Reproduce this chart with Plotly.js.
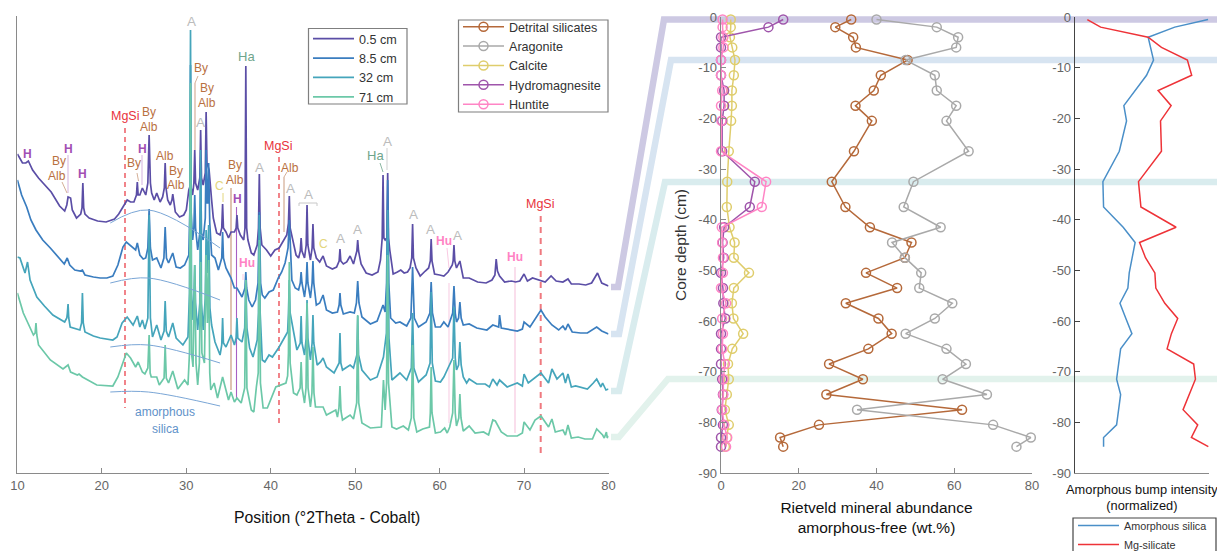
<!DOCTYPE html>
<html><head><meta charset="utf-8">
<script src="https://cdn.plot.ly/plotly-3.0.1.min.js"></script>
<style>html,body{margin:0;padding:0;background:#fff;overflow:hidden}#g{width:1217px;height:551px}</style>
</head><body><div id="g"></div><script>
// ---------- XRD patterns (2theta, stacked intensity) ----------
const x05=[10,10.6,11,11.3,11.8,12.5,14,15,15.6,15.85,16,16.3,16.5,17,17.5,17.65,17.75,17.85,18,18.5,19.5,20.5,21.5,22,22.5,23,23.4,23.8,24.1,24.2,24.3,24.5,24.8,25.2,25.45,25.6,25.75,25.9,26.2,26.5,26.9,27.2,27.4,27.5,27.6,27.8,28.1,28.3,28.4,28.5,28.7,29.2,29.7,30,30.3,30.5,30.75,30.9,31,31.1,31.35,31.6,31.7,31.8,32,32.25,32.35,32.45,32.7,33,33.2,33.6,34,34.2,34.3,34.4,34.7,35,35.3,35.7,35.9,36,36.1,36.4,36.8,36.95,37.05,37.15,37.3,37.7,38,38.4,38.55,38.65,38.75,38.95,39.5,40,40.5,41,41.5,41.9,42.1,42.2,42.3,42.6,43,43.3,43.5,43.6,43.7,44,44.2,44.3,44.4,44.7,44.9,45,45.1,45.4,45.8,46.2,46.6,47.3,47.8,48.1,48.2,48.3,48.6,49,49.4,49.8,50.2,50.3,50.4,50.7,51.3,52,52.7,53,53.2,53.3,53.4,53.55,53.75,53.85,53.95,54.1,54.5,55,55.4,55.8,56.2,56.5,56.7,56.8,56.9,57.2,57.7,58.3,58.7,58.9,59,59.1,59.4,60,60.5,61,61.5,61.6,61.7,61.8,62,62.4,62.8,63.5,64.5,65.5,66.2,66.55,66.7,66.85,67.1,67.7,68.5,69,69.5,70,70.4,71,71.8,72.5,73.2,73.8,74.6,75.2,75.6,76.5,77.3,78,78.7,79.2,80];
const y05=[319,310,310,312,303,295,281,267,262,268,276,275,263,255,259,265,290,265,259,255,252,251,254,259,266,273,271,271,278,291,278,278,285,278,290,338,290,280,273,280,271,276,285,310,285,273,268,273,279,273,261,256,258,263,283,288,278,290,323,290,283,295,343,295,288,300,361,310,303,273,255,240,238,245,269,245,241,235,241,241,245,258,245,238,233,245,407,245,233,220,218,228,245,299,245,228,223,217,223,225,233,238,250,277,245,233,218,215,222,235,222,215,228,268,228,213,225,249,225,215,211,217,207,204,206,212,224,212,209,211,217,209,222,233,222,209,200,198,201,213,235,298,235,233,235,300,235,223,199,201,203,200,201,205,215,249,215,205,197,202,205,212,234,212,199,198,197,201,208,212,228,212,205,212,195,195,191,190,193,198,214,202,197,191,192,191,192,199,192,195,193,191,197,192,191,194,189,189,188,190,200,190,187];
const x85=[10,10.5,11.1,11.6,12.2,13,13.9,15.4,15.55,15.9,16.2,16.8,17.45,17.7,18,19,19.8,20.6,21.3,21.9,22.5,22.9,23.4,24,24.2,24.5,24.9,25.2,25.45,25.6,25.75,26,26.5,27,27.35,27.5,27.65,27.9,28.4,28.8,29.3,29.8,30.3,30.42,30.5,30.58,30.75,30.9,31,31.1,31.35,31.6,31.7,31.8,32,32.25,32.35,32.45,32.55,32.65,32.78,33,33.4,33.8,34.2,34.3,34.4,34.7,35,35.3,35.7,36,36.6,36.95,37.05,37.15,37.4,37.8,38.2,38.5,38.65,38.8,39,39.3,39.8,40.3,40.9,41.3,41.7,42.05,42.2,42.35,42.5,42.9,43.3,43.5,43.6,43.7,44,44.2,44.3,44.4,44.7,44.9,45,45.1,45.4,45.8,46.2,46.6,47.3,47.9,48.1,48.2,48.3,48.6,49.4,49.9,50.15,50.3,50.45,50.8,51.8,52.6,53.3,53.55,53.72,53.85,53.98,54.2,54.8,55.3,56.1,56.6,56.8,57,57.5,58.4,58.85,59,59.15,59.5,60.1,60.5,61,61.55,61.7,61.85,62,62.25,62.4,62.55,62.8,63.5,64.4,65.6,66.3,67,67.1,67.3,68.5,69.2,69.8,70,70.7,71.4,72,72.5,73.3,74.1,74.6,74.9,75.2,75.7,76.7,77.5,78.6,79.2,80];
const y85=[293,278,266,253,243,233,225,211,209,215,208,203,202,203,198,196,195,195,197,208,226,231,227,223,230,218,214,215,225,264,225,213,215,205,215,246,215,210,220,206,205,208,218,260,408,260,233,245,278,245,223,240,303,240,233,255,323,270,270,310,250,218,215,203,215,241,215,205,200,195,185,185,176,185,201,185,173,166,173,190,261,190,178,175,181,183,195,201,210,225,253,215,193,185,183,190,201,190,176,190,211,190,175,190,212,190,168,170,178,163,160,161,168,180,168,159,161,160,170,192,170,156,149,152,168,161,190,293,190,155,150,151,147,155,206,155,146,151,160,191,160,146,146,151,146,160,187,160,151,155,171,155,148,149,145,143,148,146,158,145,143,142,144,151,146,155,163,156,148,143,147,143,149,141,140,140,146,142,139];
const x32=[10,10.3,10.9,11.2,11.5,12.3,13.2,14.2,15.6,15.85,15.92,16,16.08,16.25,17.4,17.6,17.7,17.8,18,19,19.8,21.3,21.8,22.4,23,23.7,24.2,24.5,24.8,25.1,25.45,25.6,25.75,26,26.5,27,27.37,27.5,27.63,27.9,28.4,28.8,29.6,30.2,30.38,30.5,30.62,30.8,30.9,31,31.1,31.35,31.6,31.7,31.8,32,32.25,32.35,32.5,32.65,32.8,33,33.4,34,34.2,34.3,34.4,34.7,35.3,35.7,35.9,36,36.1,36.6,36.92,37.05,37.18,37.5,37.9,38.4,38.55,38.65,38.75,39,39.3,39.8,40.2,41,41.8,42,42.1,42.2,42.3,42.9,43.1,43.5,43.6,43.7,44,44.2,44.3,44.4,44.7,44.9,45,45.1,45.5,45.9,46.2,46.6,47.5,48.1,48.2,48.3,48.5,49.4,49.8,50.2,50.3,50.4,50.8,51.8,52.6,53.35,53.7,53.85,54,54.35,55.3,56.1,56.65,56.8,56.95,57.5,58.4,58.87,59,59.13,59.5,60.1,60.5,61,61.55,61.7,61.85,62,62.25,62.4,62.55,62.8,63.2,63.5,64.4,65.4,65.9,66.3,66.8,67.1,68,69.2,69.8,70,70.5,72,72.9,73.3,73.9,74.6,74.9,75.2,75.6,76.1,77.5,78.2,78.6,79.1,79.3,79.7,80];
const y32=[216,215,200,211,193,176,167,158,151,155,160,169,155,146,143,150,180,150,141,137,135,133,136,150,156,148,157,146,153,144,155,258,155,136,148,133,142,172,142,136,150,135,128,136,180,443,180,153,175,208,170,143,170,323,170,143,175,243,200,248,165,148,131,118,128,155,130,126,138,128,135,155,135,131,145,193,145,125,116,133,160,258,160,113,111,118,116,126,138,141,160,193,160,130,123,130,157,130,118,135,173,135,113,130,158,130,108,111,115,106,100,110,140,110,103,108,105,118,157,118,103,93,96,116,140,263,135,93,100,93,105,160,105,91,98,110,181,110,92,91,96,105,115,166,115,103,108,131,108,96,90,94,89,89,86,94,88,93,86,90,87,99,90,100,90,104,94,100,90,99,86,87,84,90,94,86,90,83,84];
const x71=[10,10.7,11.9,12.1,12.2,12.3,12.5,13.9,15.4,16,16.3,17.1,17.3,17.7,19.4,21.3,21.9,22.4,22.9,23.4,24,24.3,24.8,25.1,25.45,25.6,25.72,25.85,26.5,26.8,27.37,27.5,27.63,27.9,28.4,29,29.8,30.2,30.38,30.5,30.62,30.8,31,31.15,31.35,31.55,31.7,31.85,32.15,32.35,32.5,32.65,32.78,32.9,33.3,33.7,34.3,35,35.3,35.7,36,36.5,36.92,37.05,37.18,37.7,38,38.3,38.52,38.65,38.78,39.1,39.6,40.6,41.8,42,42.1,42.2,42.3,42.7,43.1,43.48,43.6,43.72,44,44.18,44.3,44.42,44.7,44.88,45,45.12,45.3,46.2,46.6,47.7,47.9,48.08,48.2,48.32,48.5,49.4,49.8,50.18,50.3,50.42,50.8,51.8,52.6,53.1,53.35,53.55,53.72,53.83,53.95,54.35,54.9,55.7,56.3,56.65,56.8,56.95,57.3,58,58.8,58.9,59,59.1,59.5,60.1,60.6,60.9,61.2,61.55,61.7,61.85,62,62.27,62.4,62.53,62.8,63.5,64.2,65.2,65.8,66.3,66.6,67.3,68,69.2,69.8,70,70.7,71.3,72,72.9,73.3,73.7,74.6,74.9,75.2,75.6,76.4,77.2,78.1,78.6,79.3,79.5,79.75,79.85,80];
const y71=[180,160,138,140,150,138,128,113,104,108,101,98,99,96,88,87,96,108,120,115,106,111,101,99,105,138,100,96,96,88,95,128,95,90,102,84,93,88,120,390,120,106,208,110,88,110,211,120,110,218,150,213,100,83,90,75,96,73,81,71,75,70,85,193,85,63,61,86,100,233,90,65,65,86,90,97,120,211,110,80,78,85,111,85,70,85,170,85,66,80,126,80,66,66,58,63,56,65,87,62,53,58,54,70,158,70,50,45,46,46,93,63,90,218,90,46,44,47,43,55,128,55,41,44,46,60,106,60,40,41,45,40,46,60,113,60,47,55,79,55,42,47,40,41,38,53,52,41,37,37,40,51,43,53,57,46,54,41,43,38,48,35,36,34,34,44,38,35,41,35,37];
const xrdNames=['0.5 cm','8.5 cm','32 cm','71 cm'];
// ---------- Amorphous silica arcs ----------
const arcX=[21,25.5,34];
const arc1=[250,263,225], arc2=[190,195,173], arc3=[126,128,110], arc4=[81,81,67];
// ---------- Rietveld abundance vs depth ----------
const depth=[-0.5,-2,-4,-6,-8.5,-11.5,-14.5,-17.5,-20.5,-26.5,-32.5,-37.5,-41.5,-44.5,-47.5,-50.5,-53.5,-56.5,-59.5,-62.5,-65.5,-68.5,-71.5,-74.5,-77.5,-80.5,-83,-84.8];
const detrital=[33.5,29.4,34,34.7,48,41.1,39.3,34.6,38.8,34.2,28.5,32,38.3,49,47.3,37.3,45.3,32.1,40.5,43.9,37.9,27.8,36.5,27.1,62,25.2,15.2,16];
const aragonite=[40,55.5,61,60.5,47.5,55,55.5,60.5,58,63.7,49.5,47,56.5,44,47.3,51.5,51,59.5,55,47.5,58,63,57,68.4,35,70,79.7,76];
const calcite=[2.5,2.5,2.3,2.9,3.6,3.3,2.8,2.8,2.6,2,1.6,1.5,2.2,3.5,3.3,7.2,3.3,2.8,3.2,5.7,2.9,1.8,2,1.5,1,2,1.5,1];
const hydromagnesite=[16,12.2,0,0,0,0,0.8,0.8,0.3,0.3,8.7,7.4,0.8,0.4,0.7,0,0.5,0.6,1.1,0,0,0,0.3,0.5,0.2,0.5,0,0];
const huntite=[0.4,0.4,0.6,0.6,0,0,0.3,0,0.1,0,11.6,10.5,0.2,0.3,0.5,0.5,0,1.3,0.3,0.5,0.3,1,0.6,0.6,0.3,0.8,1.6,1.3];
// ---------- Amorphous bump intensity ----------
const silicaBump=[.993,.745,.547,.564,.587,.535,.448,.366,.386,.332,.21,.215,.361,.45,.428,.406,.396,.337,.381,.426,.342,.327,.312,.342,.327,.312,.215,.215];
const mgBump=[.094,.193,.547,.646,.839,.871,.621,.718,.639,.646,.475,.493,.755,.483,.527,.597,.604,.671,.767,.72,.688,.886,.899,.856,.807,.916,.869,.995];
// ---------- Ticks ----------
const thetaTicks=[10,20,30,40,50,60,70,80];
const abundTicks=[0,20,40,60,80];
const depthTicks=[0,-10,-20,-30,-40,-50,-60,-70,-80,-90];
const depthLabels=['0','-10','-20','-30','-40','-50','-60','-70','-80','-90'];

const W=1217,H=551,FONT='"Liberation Sans",Arial,sans-serif';
const fx=p=>p/W, fy=p=>1-p/H;
const c={p:'#5b4ea6',b:'#3a7dbf',t:'#45a5bb',g:'#6cc8a8',det:'#b5693a',ara:'#a9a9a9',cal:'#dfcd6c',hyd:'#9f55ab',hun:'#ff85c5',
  H:'#a24fb3',By:'#b9713f',Mg:'#e8323c',A:'#bcbcbc',Ha:'#6fa58c',C:'#e3d67c',Hu:'#ff82c4',Si:'#5f92c9'};
const data=[];
[[x05,y05,c.p],[x85,y85,c.b],[x32,y32,c.t],[x71,y71,c.g]].forEach((s,i)=>data.push({x:s[0],y:s[1],mode:'lines',name:xrdNames[i],line:{color:s[2],width:1.7},legend:'legend',xaxis:'x',yaxis:'y',hoverinfo:'skip'}));
[arc1,arc2,arc3,arc4].forEach(a=>data.push({x:arcX,y:a,mode:'lines',showlegend:false,line:{color:'#7aa6d6',width:1,shape:'spline'},xaxis:'x',yaxis:'y',hoverinfo:'skip'}));
[['Detrital silicates',detrital,c.det],['Aragonite',aragonite,c.ara],['Calcite',calcite,c.cal],['Hydromagnesite',hydromagnesite,c.hyd],['Huntite',huntite,c.hun]].forEach(s=>data.push({
  x:s[1],y:depth,mode:'lines+markers',name:s[0],line:{color:s[2],width:1.5},
  marker:{symbol:'circle-open',size:9,color:s[2],line:{width:1.5,color:s[2]}},cliponaxis:false,legend:'legend2',xaxis:'x2',yaxis:'y2',hoverinfo:'skip'}));
data.push({x:silicaBump,y:depth,mode:'lines',name:'Amorphous silica',line:{color:'#4a8fc8',width:1.5},legend:'legend3',xaxis:'x3',yaxis:'y3',hoverinfo:'skip'});
data.push({x:mgBump,y:depth,mode:'lines',name:'Mg-silicate',line:{color:'#ee3338',width:1.5},legend:'legend3',xaxis:'x3',yaxis:'y3',hoverinfo:'skip'});

// ---------- connector bands, legend frames and leader lines (page pixels) ----------
const bands=[
 {pts:[[611,287],[618,287],[664,19.5],[1217,19.5]],col:'#cdc9e3'},
 {pts:[[611,334],[619,334],[671,60],[1217,60]],col:'#d7e4f1'},
 {pts:[[611,391],[619,391],[665,182],[1217,182]],col:'#d9ecee'},
 {pts:[[611,437],[619,437],[668,379],[1217,379]],col:'#e2f2ec'}];
const shapes=bands.map(b=>({type:'path',xref:'paper',yref:'paper',layer:'below',
  path:'M'+b.pts.map(p=>fx(p[0])+','+fy(p[1])).join('L'),line:{color:b.col,width:6.5},fillcolor:'rgba(0,0,0,0)'}));
const frame=(x0,y0,x1,y1,col)=>shapes.push({type:'rect',xref:'paper',yref:'paper',layer:'below',x0:fx(x0),y0:fy(y0),x1:fx(x1),y1:fy(y1),fillcolor:'#fff',line:{color:col,width:1.2}});
frame(308.5,28.5,407,104,'#7f7f7f');
frame(458.5,20,608,112,'#7f7f7f');
frame(1073,518,1216,560,'#444');
const L=(x0,y0,x1,y1,col,w,dash,op)=>shapes.push({type:'line',xref:'paper',yref:'paper',layer:'below',x0:fx(x0),y0:fy(y0),x1:fx(x1),y1:fy(y1),line:{color:col,width:w||1,dash:dash||'solid'},opacity:op||1});
L(125,128,125,408,c.Mg,1.2,'5px,4px');
L(279,157,279,423,c.Mg,1.2,'5px,4px');
L(540.7,216,540.7,457,c.Mg,2,'6px,5px',.65);
L(231,188,231,390,'#c99a7c',1.2);
L(236.5,207,236.5,398,'#a860c4',1.1);
L(68,155,68,193,'#dcc0e4',1.2);
L(142,155,142,185,'#dcc0e4',1.2);
L(62,182,67,193,'#c99a7c',.8);
L(137,173,138.5,181,'#c99a7c',.8);
L(195,150,195,83,'#d6b09a',1.2);
L(195,83,198,76,'#c99a7c',.8);
L(223,193,223,202,c.C,1);
L(284,232,284,177,'#c99a7c',1);
L(284,177,287,172,'#c99a7c',.8);
L(380,163,383,172,c.Ha,.8);
L(387,148,387,170,'#cfcfcf',1);
L(243,274,243,280,'#f9c9e2',1);
L(447,248,449,268,'#f9c9e2',1);
L(449,283,449,423,'#f9d3e6',1.2);
L(515,267,515,433,'#f9d3e6',1.5);
L(299,206,299,203,'#c8c8c8',1);L(299,203,317,203,'#c8c8c8',1);L(317,203,317,206,'#c8c8c8',1);

const labels=[['H',27.3,154,c.H],['By',59,161,c.By],['Alb',57,176,c.By],['H',68,149,c.H],['H',82.7,174,c.H],
['MgSi',125,116,c.Mg],['By',149,112,c.By],['Alb',149,127,c.By],['By',134,163,c.By],['H',142,149,c.H],['Alb',165,156,c.By],
['By',176,171,c.By],['Alb',176,185,c.By],['A',191,22,c.A],['By',201,68,c.By],['By',207,88,c.By],['Alb',207,103,c.By],
['A',200,122,c.A],['Ha',246,57,c.Ha],['C',220,186,c.C],['By',235,165,c.By],['Alb',235,180,c.By],['H',237,199,c.H],
['A',259,167,c.A],['MgSi',278,146,c.Mg],['Alb',290,168,c.By],['A',290,188,c.A],['A',308,194,c.A],['Hu',247,263,c.Hu],
['C',323,244,c.C],['A',340,239,c.A],['A',357,230,c.A],['Ha',375,155,c.Ha],['A',387,141,c.A],['A',413,215,c.A],['A',430,230,c.A],
['Hu',444,241,c.Hu],['A',458,235,c.A],['Hu',515,257,c.Hu],['MgSi',540,204,c.Mg],['amorphous',165,412,c.Si],['silica',165,429,c.Si]];
const sizeOf=t=>t==='amorphous'||t==='silica'?12:t==='A'?13.5:t==='Ha'?13:t==='By'||t==='Alb'?12:t==='MgSi'?12.5:12;
const annotations=labels.map(l=>({text:(l[0]==='H'||l[0]==='Hu')?'<b>'+l[0]+'</b>':l[0],xref:'paper',yref:'paper',x:fx(l[1]),y:fy(l[2]),xanchor:'center',yanchor:'middle',showarrow:false,
  font:{family:FONT,size:sizeOf(l[0]),color:l[3]}}));
annotations.push({text:'Position (°2Theta - Cobalt)',xref:'paper',yref:'paper',x:fx(327),y:fy(517),xanchor:'center',yanchor:'middle',showarrow:false,font:{family:FONT,size:15.8,color:'#111'}});

const axBase={showgrid:false,zeroline:false,showline:true,linecolor:'#8a8a8a',linewidth:1.3,ticks:'inside',ticklen:5,tickcolor:'#8a8a8a',tickwidth:1,
  tickfont:{family:FONT,size:13,color:'#666'},automargin:false};
const legBase={xanchor:'left',yanchor:'top',bgcolor:'rgba(0,0,0,0)',borderwidth:0,itemwidth:41,tracegroupgap:0};
const layout={width:W,height:H,margin:{l:0,r:0,t:0,b:0,autoexpand:false},paper_bgcolor:'#fff',plot_bgcolor:'rgba(0,0,0,0)',
  font:{family:FONT},shapes,annotations,
  xaxis:{...axBase,domain:[fx(17.4),fx(608.5)],range:[10,80],tickvals:thetaTicks,anchor:'y'},
  yaxis:{...axBase,domain:[fy(473),fy(16)],range:[0,457],ticks:'',showticklabels:false,anchor:'x'},
  xaxis2:{...axBase,domain:[fx(721),fx(1032)],range:[0,80],tickvals:abundTicks,anchor:'y2',
    title:{text:'Rietveld mineral abundance<br>amorphous-free (wt.%)',font:{family:FONT,size:15.5,color:'#111'},standoff:10}},
  yaxis2:{...axBase,domain:[fy(473),fy(17)],range:[-90,0],tickvals:depthTicks,ticktext:depthLabels,anchor:'x2',
    title:{text:'Core depth (cm)',font:{family:FONT,size:15.5,color:'#333'},standoff:8}},
  xaxis3:{...axBase,domain:[fx(1074.7),fx(1209)],range:[0,1],ticks:'',showticklabels:false,anchor:'y3',
    title:{text:'Amorphous bump intensity<br>(normalized)',font:{family:FONT,size:12.8,color:'#111'},standoff:11}},
  yaxis3:{...axBase,domain:[fy(473),fy(17)],range:[-90,0],linecolor:'#444',linewidth:1,tickcolor:'#444',tickvals:depthTicks,ticktext:depthLabels,anchor:'x3'},
  legend:{...legBase,x:fx(308),y:fy(24),font:{family:FONT,size:12.6,color:'#333'}},
  legend2:{...legBase,x:fx(458),y:fy(12),font:{family:FONT,size:12.6,color:'#333'}},
  legend3:{...legBase,x:fx(1073),y:fy(511),font:{family:FONT,size:10.8,color:'#333'}}
};
Plotly.newPlot('g',data,layout,{displayModeBar:false,staticPlot:true});
</script></body></html>
